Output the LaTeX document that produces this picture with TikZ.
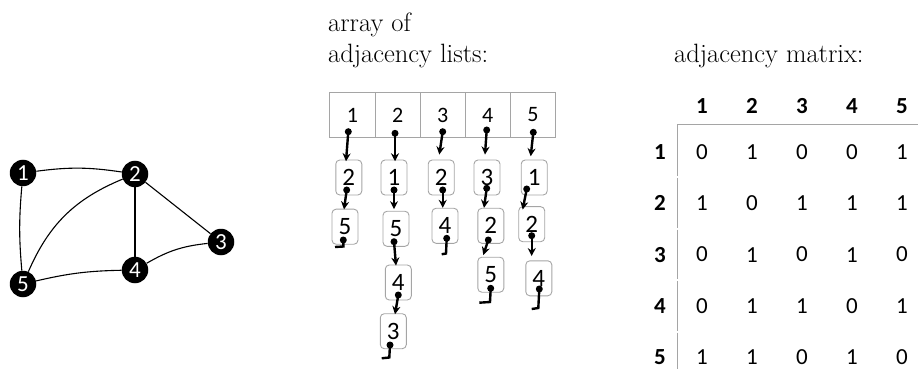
\documentclass[tikz,border=0pt]{standalone}
\usepackage{fontspec}
\newfontfamily\digitfont{Carlito}
\usetikzlibrary{arrows.meta}
\definecolor{boxgray}{RGB}{165,165,165}
\definecolor{linegray}{RGB}{165,165,165}
\begin{document}
\begin{tikzpicture}[x=1pt,y=-1pt,
  gnode/.style={circle,fill=black,minimum size=26.5pt,inner sep=0pt,text=white,font=\digitfont\fontsize{23}{23}\selectfont},
  gedge/.style={line width=1.1pt},
  cell/.style={draw=boxgray,line width=1pt,minimum width=45.1pt,minimum height=44.5pt,inner sep=0pt,font=\digitfont\fontsize{22}{22}\selectfont},
  lnode/.style={draw=boxgray,rounded corners=4pt,line width=0.9pt,minimum width=26pt,minimum height=35pt,inner sep=0pt,font=\digitfont\fontsize{25}{25}\selectfont},
  dotp/.style={circle,fill=black,minimum size=7pt,inner sep=0pt},
  ptr/.style={line width=2.4pt,-{Stealth[length=8pt,width=8pt]}},
  nil/.style={line width=2.4pt},
  mhead/.style={font=\digitfont\bfseries\fontsize{23}{23}\selectfont},
  mval/.style={font=\digitfont\fontsize{23}{23}\selectfont},
  title/.style={anchor=base west,font=\fontsize{26.5}{31}\selectfont,inner sep=0pt},
  mline/.style={draw=linegray,line width=1pt}
]
\useasboundingbox (0,0) rectangle (918,374);

% ---------- graph ----------
\node[gnode] (g1) at (23,173) {1};
\node[gnode] (g2) at (135,174) {2};
\node[gnode] (g3) at (221,242) {3};
\node[gnode] (g4) at (135,270) {4};
\node[gnode] (g5) at (23,284) {5};
\draw[gedge] (g1) to[bend left=8] (g2);
\draw[gedge] (g1) to[bend right=5] (g5);
\draw[gedge] (g2) to[bend right=22] (g5);
\draw[gedge] (g2) -- (g4);
\draw[gedge] (g2) -- (g3);
\draw[gedge] (g3) to[bend right=12] (g4);
\draw[gedge] (g4) to[bend right=6] (g5);

% ---------- titles ----------
\node[title] (tA) at (328,32) {array of};
\node[title] (tB) at (328,62.5) {adjacency lists:};
\node[title] (tC) at (674,62.5) {adjacency matrix:};

% ---------- array ----------
\foreach \i in {1,...,5}{
  \node[cell] (t\i) at ({352.5+45.1*(\i-1)},115) {\i};
}
% list nodes
\node[lnode] (a1) at (348.8,177.5) {2};
\node[lnode] (a2) at (345,226.7) {5};
\node[lnode] (b1) at (394,177.5) {1};
\node[lnode] (b2) at (396,228.8) {5};
\node[lnode] (b3) at (398.3,282.5) {4};
\node[lnode] (b4) at (393.3,331.2) {3};
\node[lnode] (c1) at (441.2,177.5) {2};
\node[lnode] (c2) at (445,225.8) {4};
\node[lnode] (d1) at (487,177.5) {3};
\node[lnode] (d2) at (490.8,225.8) {2};
\node[lnode] (d3) at (490.8,274.7) {5};
\node[lnode] (e1) at (534.2,177.5) {1};
\node[lnode] (e2) at (531.7,224.2) {2};
\node[lnode] (e3) at (538.8,278.3) {4};

% dots
\node[dotp] (pt1) at (348.3,131.7) {};
\node[dotp] (pt2) at (395,133.3) {};
\node[dotp] (pt3) at (442.7,131.7) {};
\node[dotp] (pt4) at (486.7,130) {};
\node[dotp] (pt5) at (533.3,132.3) {};
\node[dotp] (pa1) at (346.7,190) {};
\node[dotp] (pa2) at (343.3,240) {};
\node[dotp] (pb1) at (394,190) {};
\node[dotp] (pb2) at (394,241.7) {};
\node[dotp] (pb3) at (398.3,295) {};
\node[dotp] (pb4) at (390,345) {};
\node[dotp] (pc1) at (442.7,190) {};
\node[dotp] (pc2) at (446.7,238.3) {};
\node[dotp] (pd1) at (486.7,188.3) {};
\node[dotp] (pd2) at (488.3,240) {};
\node[dotp] (pd3) at (490.7,288.3) {};
\node[dotp] (pe1) at (526.7,189) {};
\node[dotp] (pe2) at (531.7,235.7) {};
\node[dotp] (pe3) at (539.3,289) {};

% pointers
\draw[ptr] (pt1.center) -- ([xshift=-2.8pt,yshift=-1.7pt]a1.north);
\draw[ptr] (pt2.center) -- ([xshift=1pt,yshift=-1.7pt]b1.north);
\draw[ptr] (pt3.center) -- ([xshift=-1.9pt,yshift=5pt]c1.north);
\draw[ptr] (pt4.center) -- ([xshift=-2pt,yshift=5pt]d1.north);
\draw[ptr] (pt5.center) -- ([xshift=-3.5pt,yshift=3.3pt]e1.north);
\draw[ptr] (pa1.center) -- ([xshift=-1pt,yshift=-0.7pt]a2.north);
\draw[ptr] (pb1.center) -- ([xshift=-2pt,yshift=1.7pt]b2.north);
\draw[ptr] (pb2.center) -- ([xshift=-2.3pt,yshift=-1pt]b3.north);
\draw[ptr] (pb3.center) -- ([xshift=1.7pt,yshift=-1pt]b4.north);
\draw[ptr] (pc1.center) -- ([xshift=-2.3pt]c2.north);
\draw[ptr] (pd1.center) -- ([xshift=-6.8pt]d2.north);
\draw[ptr] (pd2.center) -- ([xshift=-7.5pt,yshift=1.7pt]d3.north);
\draw[ptr] (pe1.center) -- ([xshift=-9pt,yshift=-3.3pt]e2.north);
\draw[ptr] (pe2.center) -- ([xshift=-7.1pt,yshift=4.3pt]e3.north);

% null terminators
\coordinate (na2) at (335,247);
\coordinate (nb4) at (381.7,358.3);
\coordinate (nc2) at (441.7,254.3);
\coordinate (nd3) at (479.3,302.7);
\coordinate (ne3) at (531.7,309);
\draw[nil] (pa2.center) -- (343.3,246.5) -- (na2);
\draw[nil] (pb4.center) -- (389.3,357.5) -- (nb4);
\draw[nil] (pc2.center) -- (446,253.5) -- (nc2);
\draw[nil] (pd3.center) -- (490,302) -- (nd3);
\draw[nil] (pe3.center) -- (538.3,308) -- (ne3);

% ---------- matrix ----------
\foreach \j in {1,...,5}{
  \node[mhead] (h\j) at ({702+50*(\j-1)},106) {\j};
  \node[mhead] (r\j) at (660,{152+51.3*(\j-1)}) {\j};
}
\foreach \r/\vals in {1/{0,1,0,0,1},2/{1,0,1,1,1},3/{0,1,0,1,0},4/{0,1,1,0,1},5/{1,1,0,1,0}}{
  \foreach \v [count=\c] in \vals {
    \node[mval] (m\r\c) at ({702+50*(\c-1)},{152+51.3*(\r-1)}) {\v};
  }
}
\draw[mline] (677,125) -- (918,125);
\draw[mline] (677,125) -- (677,176.5);
\draw[mline] (677,178.5) -- (677,227.5);
\draw[mline] (677,229.5) -- (677,279);
\draw[mline] (677,281) -- (677,330.5);
\draw[mline] (677,332.5) -- (677,368.5);
\end{tikzpicture}
\end{document}
